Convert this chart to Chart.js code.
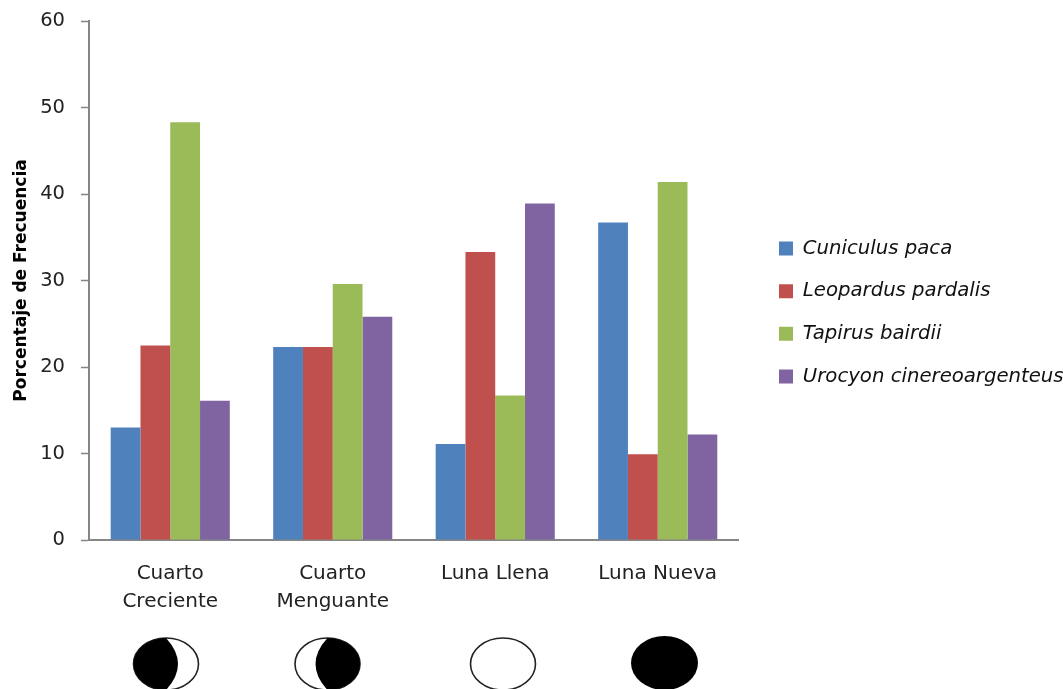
<!DOCTYPE html>
<html>
<head>
<meta charset="utf-8">
<title>Porcentaje de Frecuencia</title>
<script src="https://cdn.jsdelivr.net/npm/chart.js@4"></script>
<style>
  html, body { margin: 0; padding: 0; background: #fff; }
  canvas { display: block; }
</style>
</head>
<body>
<canvas id="myChart" width="1063" height="689"></canvas>
<script>
const categories = [['Cuarto', 'Creciente'], ['Cuarto', 'Menguante'], 'Luna Llena', 'Luna Nueva']
const cuniculus = [13, 22.3, 11.1, 36.7]
const leopardus = [22.5, 22.3, 33.3, 9.9]
const tapirus = [48.3, 29.6, 16.7, 41.4]
const urocyon = [16.1, 25.8, 38.9, 12.2]
const moonPhases = ['creciente', 'menguante', 'llena', 'nueva']

const fontFamily = '"DejaVu Sans", sans-serif'
const legendPadding = 23

// moon icons under each category label
const moonPlugin = {
    id: 'moons',
    afterDraw(chart) {
        const ctx = chart.ctx
        const centers = [166, 327.5, 503, 664.5]
        const cy = 664
        const rx = 32.5
        const ry = 26
        moonPhases.forEach((phase, i) => {
            const cx = centers[i]
            ctx.save()
            ctx.fillStyle = '#000'
            ctx.strokeStyle = '#222'
            ctx.lineWidth = 1.6
            if (phase === 'nueva') {
                ctx.beginPath()
                ctx.ellipse(cx, cy - 1, rx + 1, ry + 1, 0, 0, Math.PI * 2)
                ctx.fill()
            } else {
                ctx.beginPath()
                ctx.ellipse(cx, cy, rx, ry, 0, 0, Math.PI * 2)
                ctx.stroke()
            }
            if (phase === 'creciente') {
                ctx.beginPath()
                ctx.ellipse(cx, cy, rx, ry, 0, -Math.PI / 2, Math.PI / 2, true)
                ctx.quadraticCurveTo(cx + 24, cy, cx, cy - ry)
                ctx.fill()
            }
            if (phase === 'menguante') {
                ctx.beginPath()
                ctx.ellipse(cx, cy, rx, ry, 0, -Math.PI / 2, Math.PI / 2, false)
                ctx.quadraticCurveTo(cx - 24, cy, cx, cy - ry)
                ctx.fill()
            }
            ctx.restore()
        })
    }
}

// the legend sits higher than the plot's middle, and runs to the canvas edge
const legendShift = {
    id: 'legendShift',
    afterLayout(chart) {
        const legend = chart.legend
        const dy = 312.5 - (legend.top + legend.bottom) / 2
        legend.top += dy
        legend.bottom += dy
        legend.left = 779 - legendPadding
        legend.right = chart.width
    }
}

new Chart(document.getElementById('myChart').getContext('2d'), {
    type: 'bar',
    plugins: [moonPlugin, legendShift],
    data: {
        labels: categories,
        datasets: [
            { label: 'Cuniculus paca', data: cuniculus, backgroundColor: '#4F81BD' },
            { label: 'Leopardus pardalis', data: leopardus, backgroundColor: '#C0504D' },
            { label: 'Tapirus bairdii', data: tapirus, backgroundColor: '#9BBB59' },
            { label: 'Urocyon cinereoargenteus', data: urocyon, backgroundColor: '#8064A2' }
        ]
    },
    options: {
        responsive: false,
        animation: false,
        layout: { padding: { top: 21, bottom: 0, left: 0, right: 77.7 } },
        datasets: { bar: { barPercentage: 1, categoryPercentage: 0.733 } },
        plugins: {
            tooltip: { enabled: false },
            legend: {
                position: 'right',
                labels: {
                    boxWidth: 14,
                    boxHeight: 14,
                    padding: legendPadding,
                    color: '#111',
                    font: { family: fontFamily, size: 19.7, style: 'italic' }
                }
            }
        },
        scales: {
            x: {
                afterFit(scale) { scale.height = 149 },
                grid: { display: false },
                border: { color: '#868686', width: 2 },
                ticks: {
                    autoSkip: false,
                    maxRotation: 0,
                    minRotation: 0,
                    padding: 12,
                    color: '#222',
                    font: { family: fontFamily, size: 20, lineHeight: 1.4 }
                }
            },
            y: {
                min: 0,
                max: 60,
                afterFit(scale) {
                    scale.width = 89
                    scale.paddingTop = 0
                },
                border: { color: '#868686', width: 2 },
                grid: { drawOnChartArea: false, drawTicks: true, tickLength: 8, color: '#868686', tickWidth: 1.5 },
                ticks: {
                    stepSize: 10,
                    padding: 16,
                    color: '#222',
                    font: { family: fontFamily, size: 19.5 }
                },
                title: {
                    display: true,
                    text: 'Porcentaje de Frecuencia',
                    color: '#000',
                    padding: { top: 11, bottom: 0 },
                    font: { family: fontFamily, size: 17, weight: 'bold' }
                }
            }
        }
    }
})
</script>
</body>
</html>
